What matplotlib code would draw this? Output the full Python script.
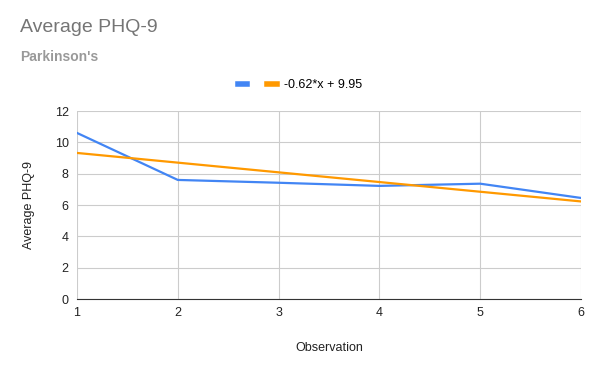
import numpy as np
import matplotlib
matplotlib.use("Agg")
from matplotlib import pyplot as plt

plt.rcParams['font.family'] = ['Liberation Sans', 'DejaVu Sans']

# Data
observations = [1, 2, 3, 4, 5, 6]
avg_phq9 = [10.6, 7.6, 7.42, 7.22, 7.36, 6.45]
trend_label = "-0.62*x + 9.95"

BLUE = "#4285F4"
ORANGE = "#FF9900"

fig = plt.figure(figsize=(6, 3.71), dpi=100)
ax = fig.add_axes([77 / 600, 1 - 299 / 371, 504 / 600, 188 / 371])

# Linear trend line fitted to the series
slope, intercept = np.polyfit(observations, avg_phq9, 1)
x_fit = np.array([observations[0], observations[-1]])

l1, = ax.plot(observations, avg_phq9, color=BLUE, lw=1.6, zorder=3)
l2, = ax.plot(x_fit, slope * x_fit + intercept, color=ORANGE, lw=1.6, zorder=3)

ax.set_xlim(1, 6)
ax.set_ylim(0, 12)
ax.set_yticks(range(0, 13, 2))
ax.set_xticks(observations)
ax.grid(True, color="#cccccc", lw=0.8)
ax.set_axisbelow(True)
for s in ["top", "right", "left"]:
    ax.spines[s].set_visible(False)
ax.spines["bottom"].set_color("#333333")
ax.spines["bottom"].set_zorder(4)
ax.tick_params(length=0, labelsize=9, colors="#222222", pad=6)

ax.set_xlabel("Observation", fontsize=9, color="#222222", labelpad=16)
ax.set_ylabel("Average PHQ-9", fontsize=9, color="#222222", labelpad=14)

fig.text(20 / 600, 1 - 32 / 371, "Average PHQ-9", fontsize=14, color="#757575",
         va="baseline")
fig.text(20 / 600, 1 - 61 / 371, "Parkinson's", fontsize=10, color="#999999",
         fontweight="bold", va="baseline")

fig.legend([l1, l2], ["", trend_label], loc="center", bbox_to_anchor=(300 / 600, 1 - 85 / 371),
           ncol=2, frameon=False, fontsize=9, handlelength=0.75, handletextpad=0.6,
           columnspacing=1.0)
for line in fig.legends[0].get_lines():
    line.set_linewidth(4)

fig.savefig("out.png", dpi=100)
